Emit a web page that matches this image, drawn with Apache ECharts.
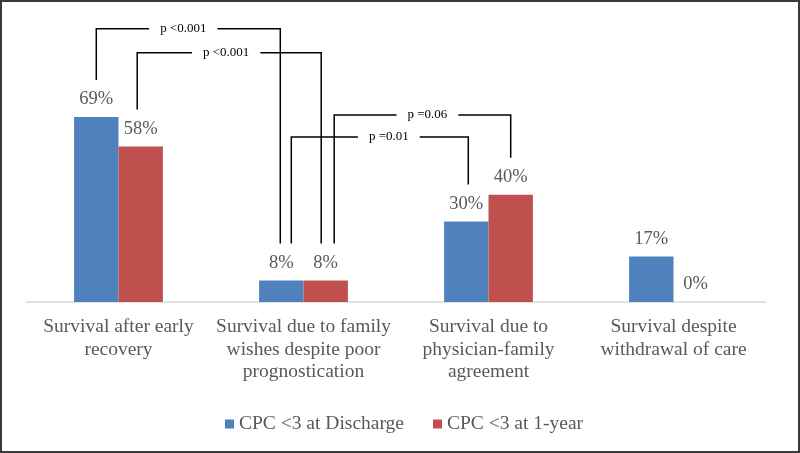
<!DOCTYPE html>
<html>
<head>
<meta charset="utf-8">
<script src="https://cdn.jsdelivr.net/npm/echarts@6/dist/echarts.min.js"></script>
<style>
html,body{margin:0;padding:0;background:#fff;}
#chart{width:800px;height:453px;}
</style>
</head>
<body>
<div id="chart"></div>
<script>
const categories = [
  "Survival after early\nrecovery",
  "Survival due to family\nwishes despite poor\nprognostication",
  "Survival due to\nphysician-family\nagreement",
  "Survival despite\nwithdrawal of care"
];
const seriesNames = ["CPC <3 at Discharge", "CPC <3 at 1-year"];
const discharge = [69, 8, 30, 17];
const oneYear = [58, 8, 40, 0];
// significance brackets: [category, series] endpoints, level (in %), label
const brackets = [
  { a: [0, 0], b: [1, 0], level: 102, text: "p <0.001", adx: 0, bdx: -1, tdx: -5 },
  { a: [0, 1], b: [1, 1], level: 93, text: "p <0.001", adx: -3.5, bdx: -4.5, tdx: -3 },
  { a: [1, 1], b: [2, 1], level: 69.8, text: "p =0.06", adx: 8.5, bdx: 0, tdx: 5 },
  { a: [1, 0], b: [2, 0], level: 61.6, text: "p =0.01", adx: 10, bdx: 2, tdx: 9 }
];

const FONT = "'Liberation Serif','Times New Roman',serif";
const chart = echarts.init(document.getElementById('chart'), null, { renderer: 'canvas' });
const labelCfg = {
  show: true, position: 'top', distance: 8,
  formatter: '{c}%', color: '#595959', fontSize: 18.5, fontFamily: FONT
};
chart.setOption({
  animation: false,
  backgroundColor: '#fff',
  grid: { left: 26, right: 34, top: 34, bottom: 151, containLabel: false },
  legend: {
    bottom: 14, left: 220,
    itemWidth: 9, itemHeight: 9, itemGap: 29,
    icon: 'rect',
    textStyle: { color: '#595959', fontSize: 19.5, fontFamily: FONT },
    data: seriesNames
  },
  xAxis: {
    type: 'category', data: categories,
    axisLine: { show: true, lineStyle: { color: '#d9d9d9', width: 1.5 } },
    axisTick: { show: false },
    axisLabel: { color: '#595959', fontSize: 19.5, fontFamily: FONT, lineHeight: 22.5, margin: 14, interval: 0 }
  },
  yAxis: {
    type: 'value', min: 0, max: 100, show: false,
    splitLine: { show: false }
  },
  series: [
    { name: seriesNames[0], type: 'bar', data: discharge, itemStyle: { color: '#4f81bd' },
      barGap: '0%', barCategoryGap: '52%', label: labelCfg },
    { name: seriesNames[1], type: 'bar', data: oneYear, itemStyle: { color: '#c0504d' },
      barGap: '0%', barCategoryGap: '52%', label: labelCfg }
  ]
});

function drawBrackets() {
  const vals = [discharge, oneYear];
  const c0 = chart.convertToPixel({ xAxisIndex: 0 }, 0);
  const c1 = chart.convertToPixel({ xAxisIndex: 0 }, 1);
  const band = c1 - c0;
  const bw = band * (1 - 0.52) / 2;
  const px = (cat, s) => chart.convertToPixel({ xAxisIndex: 0 }, cat) + (s === 0 ? -bw / 2 : bw / 2);
  const py = v => chart.convertToPixel({ yAxisIndex: 0 }, v);
  const drop = 37;
  const g = [{
    type: 'rect', shape: { x: 1, y: 1, width: 798, height: 451 },
    style: { fill: 'none', stroke: '#3a3a3a', lineWidth: 2 }, z: 100
  }];
  brackets.forEach(br => {
    const x1 = px(br.a[0], br.a[1]) + br.adx;
    const x2 = px(br.b[0], br.b[1]) + br.bdx;
    const y1 = py(vals[br.a[1]][br.a[0]]) - drop;
    const y2 = py(vals[br.b[1]][br.b[0]]) - drop;
    const yl = py(br.level);
    g.push({
      type: 'polyline', shape: { points: [[x1, y1], [x1, yl], [x2, yl], [x2, y2]] },
      style: { stroke: '#000', lineWidth: 1.5, fill: null }, z: 50
    });
    g.push({
      type: 'text', x: (x1 + x2) / 2 + br.tdx, y: yl, z: 60,
      style: {
        text: br.text, fill: '#000', font: "13px " + FONT,
        align: 'center', verticalAlign: 'middle',
        backgroundColor: '#fff', padding: [2, 11]
      }
    });
  });
  chart.setOption({ graphic: g });
}
drawBrackets();
</script>
</body>
</html>
